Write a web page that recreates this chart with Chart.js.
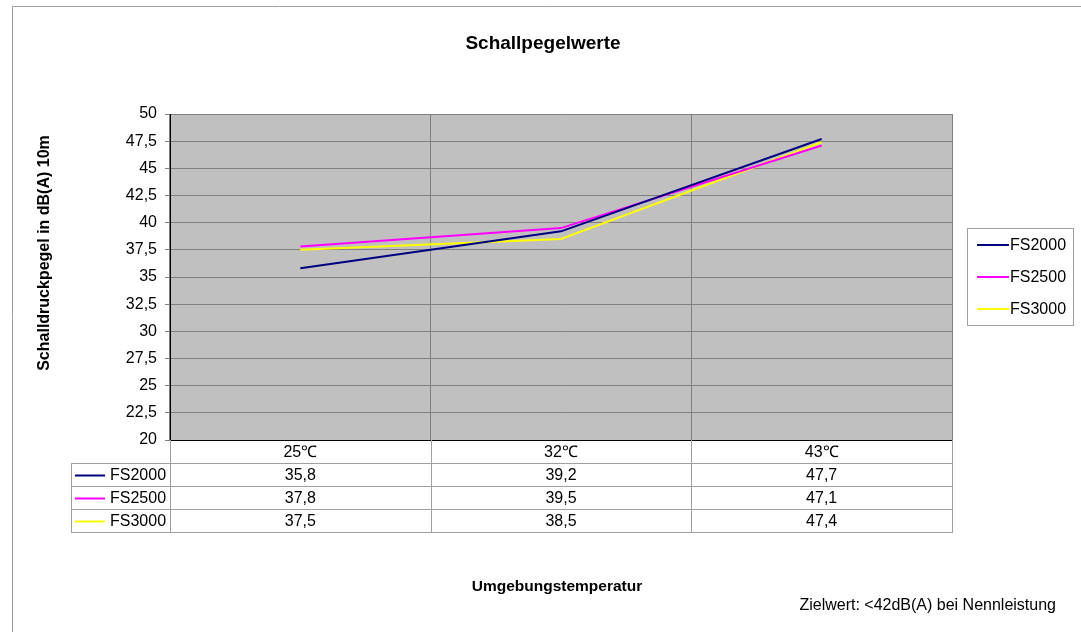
<!DOCTYPE html>
<html>
<head>
<meta charset="utf-8">
<script src="https://cdn.jsdelivr.net/npm/chart.js@4"></script>
<style>
  html, body { margin: 0; padding: 0; background: #fff; }
  #wrap { width: 1081px; height: 632px; position: relative; }
</style>
</head>
<body>
<div id="wrap"><canvas id="chart"></canvas></div>
<script>
// categories and series
const categories = ['25\u2103', '32\u2103', '43\u2103'];
const seriesNames = ['FS2000', 'FS2500', 'FS3000'];
const fs2000 = [35.8, 39.2, 47.7];
const fs2500 = [37.8, 39.5, 47.1];
const fs3000 = [37.5, 38.5, 47.4];
const seriesColors = ['#000080', '#ff00ff', '#ffff00'];

const FONT = "'Liberation Sans', Arial, sans-serif";

// comma as decimal separator
function de(v) {
    return String(v).replace('.', ',');
}

// gray plot area, data table, titles, legend
const decorPlugin = {
    id: 'decor',
    beforeDraw(chart) {
        const ctx = chart.ctx;
        const a = chart.chartArea;
        ctx.save();
        ctx.fillStyle = '#c0c0c0';
        ctx.fillRect(a.left, a.top, a.right - a.left, a.bottom - a.top);
        // outer frame
        ctx.strokeStyle = '#a0a0a0';
        ctx.lineWidth = 1;
        ctx.beginPath();
        ctx.moveTo(12.5, 632);
        ctx.lineTo(12.5, 6.5);
        ctx.lineTo(1081, 6.5);
        ctx.stroke();
        ctx.restore();
    },
    afterDraw(chart) {
        const ctx = chart.ctx;
        const a = chart.chartArea;
        const x = chart.scales.x;
        const n = categories.length;
        const colW = (a.right - a.left) / n;
        const rowH = 23;
        const tableLeft = 71;
        const rows = chart.data.datasets.length;
        const tableBottom = a.bottom + rowH * (rows + 1);

        ctx.save();
        ctx.strokeStyle = '#a0a0a0';
        ctx.lineWidth = 1;
        ctx.beginPath();
        // vertical lines below plot
        for (let i = 0; i <= n; i++) {
            const vx = Math.round(a.left + i * colW) + 0.5;
            ctx.moveTo(vx, a.bottom);
            ctx.lineTo(vx, tableBottom);
        }
        ctx.moveTo(tableLeft + 0.5, a.bottom + rowH);
        ctx.lineTo(tableLeft + 0.5, tableBottom);
        // horizontal row lines
        for (let r = 1; r <= rows + 1; r++) {
            const hy = Math.round(a.bottom + r * rowH) + 0.5;
            ctx.moveTo(tableLeft, hy);
            ctx.lineTo(a.right + 1, hy);
        }
        ctx.stroke();

        ctx.fillStyle = '#000';
        ctx.font = '16px ' + FONT;
        ctx.textBaseline = 'middle';
        ctx.textAlign = 'center';
        categories.forEach((c, i) => {
            ctx.fillText(c, x.getPixelForValue(i), a.bottom + rowH / 2 + 1);
        });
        chart.data.datasets.forEach((ds, r) => {
            const cy = a.bottom + rowH * (r + 1) + rowH / 2 + 1;
            ctx.strokeStyle = ds.borderColor;
            ctx.lineWidth = 2;
            ctx.beginPath();
            ctx.moveTo(75, cy);
            ctx.lineTo(105, cy);
            ctx.stroke();
            ctx.textAlign = 'left';
            ctx.fillText(ds.label, 110, cy);
            ctx.textAlign = 'center';
            ds.data.forEach((v, i) => {
                ctx.fillText(de(v.toFixed(1)), x.getPixelForValue(i), cy);
            });
        });

        // titles
        ctx.font = 'bold 19px ' + FONT;
        ctx.fillText('Schallpegelwerte', 543, 44);
        ctx.font = 'bold 15.5px ' + FONT;
        ctx.fillText('Umgebungstemperatur', 557, 587);
        ctx.save();
        ctx.translate(45, 253);
        ctx.rotate(-Math.PI / 2);
        ctx.font = 'bold 16px ' + FONT;
        ctx.fillText('Schalldruckpegel in dB(A) 10m', 0, 0);
        ctx.restore();

        ctx.font = '16px ' + FONT;
        ctx.textAlign = 'right';
        ctx.fillText('Zielwert: <42dB(A) bei Nennleistung', 1056, 606);

        // legend box
        ctx.strokeStyle = '#a0a0a0';
        ctx.lineWidth = 1;
        ctx.strokeRect(967.5, 228.5, 106, 97);
        ctx.textAlign = 'left';
        chart.data.datasets.forEach((ds, r) => {
            const ly = 245 + r * 32;
            ctx.strokeStyle = ds.borderColor;
            ctx.lineWidth = 2;
            ctx.beginPath();
            ctx.moveTo(977, ly);
            ctx.lineTo(1009, ly);
            ctx.stroke();
            ctx.fillText(ds.label, 1010, ly + 1);
        });
        ctx.restore();
    }
};

const ctx = document.getElementById('chart').getContext('2d');
new Chart(ctx, {
    type: 'line',
    data: {
        labels: categories,
        datasets: [
            { label: seriesNames[0], data: fs2000, borderColor: seriesColors[0] },
            { label: seriesNames[1], data: fs2500, borderColor: seriesColors[1] },
            { label: seriesNames[2], data: fs3000, borderColor: seriesColors[2] }
        ].map(ds => Object.assign(ds, {
            borderWidth: 2,
            pointRadius: 0,
            tension: 0,
            fill: false
        }))
    },
    options: {
        responsive: true,
        maintainAspectRatio: false,
        animation: false,
        layout: {
            padding: { left: 0, top: 114, right: 129, bottom: 192 }
        },
        plugins: {
            legend: { display: false },
            tooltip: { enabled: false }
        },
        scales: {
            x: {
                offset: true,
                ticks: { display: false },
                grid: { offset: true, color: '#808080', drawTicks: false },
                border: { color: '#000', width: 1 },
                afterFit: function(scale) { scale.height = 0; }
            },
            y: {
                min: 20,
                max: 50,
                ticks: {
                    stepSize: 2.5,
                    color: '#000',
                    padding: 8,
                    font: { size: 16, family: FONT },
                    callback: v => de(v)
                },
                grid: { color: '#808080', tickLength: 5, tickColor: '#808080' },
                border: { color: '#000', width: 1 },
                afterFit: function(scale) { scale.width = 170; }
            }
        }
    },
    plugins: [decorPlugin]
});
</script>
</body>
</html>
